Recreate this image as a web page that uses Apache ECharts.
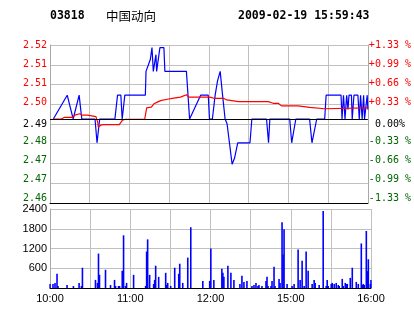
<!DOCTYPE html>
<html><head><meta charset="utf-8">
<script src="https://cdn.jsdelivr.net/npm/echarts@6/dist/echarts.min.js"></script>
<style>html,body{margin:0;padding:0;background:#fff}#c{width:414px;height:314px}</style>
</head><body><div id="c"></div>
<script>
const stockCode = '03818';
const stockName = '中国动向';
const stamp = '2009-02-19 15:59:43';
const priceTicks = ['2.46','2.47','2.47','2.48','2.49','2.50','2.51','2.51','2.52'];
const pctTicks = ['-1.33 %','-0.99 %','-0.66 %','-0.33 %',' 0.00%','+0.33 %','+0.66 %','+0.99 %','+1.33 %'];
const timeTicks = ['10:00','','11:00','','12:00','','15:00','','16:00'];
const volTicks = ['','600','1200','1800','2400'];
const prevClose = 2.4879;

// minutes of trading since 10:00 (12:30 and 14:30 share minute 150)
const priceMinutes = [2.5,13,17.5,22,23.5,24,34,35.5,36.5,37.5,49,51,53.5,54.5,56,56.5,72,72.5,74,75.75,77,77.5,78,79,80,80.5,81.5,83,86,86.75,103,105.4,113.75,119.5,120.4,122.6,124.7,126.5,128.5,130.3,132.2,133.7,135.5,137.5,139.3,141.75,151,152.4,163.5,165,166,181,182.5,185.6,196,197.8,201.4,207.4,208.5,219.75,220.5,221.6,222.75,224,225,225.75,227.6,228.2,229.5,232.5,233.5,234.5,235.7,236.8,237.5,238.9,239.5,240];
const prices = [2.49,2.50,2.49,2.50,2.50,2.49,2.49,2.48,2.48,2.49,2.49,2.50,2.50,2.49,2.49,2.50,2.50,2.51,2.51,2.515,2.52,2.52,2.51,2.51,2.517,2.51,2.51,2.52,2.52,2.51,2.51,2.49,2.50,2.50,2.49,2.49,2.50,2.506,2.51,2.50,2.49,2.488,2.48,2.471,2.4735,2.48,2.48,2.49,2.49,2.48,2.49,2.49,2.48,2.49,2.49,2.48,2.49,2.49,2.50,2.50,2.49,2.50,2.49,2.50,2.494,2.50,2.50,2.49,2.50,2.50,2.49,2.50,2.49,2.50,2.49,2.49,2.50,2.494];

const avgMinutes = [2.25,8.5,11,17.25,18.75,22.5,24.4,28.5,29.75,34.7,36,36.5,38.25,40.5,52.3,54.75,57,71.5,73,76.5,78.5,81,83.5,88.5,93.5,98.5,103,104.75,119.75,121.5,123.75,131,133.5,142.3,164.8,168.5,172.3,174.75,187.3,188.25,196,197.25,207.25,208.5,240];
const avgPrices = [2.4900,2.4900,2.4907,2.4907,2.4916,2.4922,2.4916,2.4916,2.4910,2.4910,2.4887,2.4866,2.4874,2.4876,2.4876,2.4895,2.4899,2.4899,2.4947,2.4950,2.4964,2.4971,2.4977,2.4983,2.4988,2.4992,2.5002,2.4992,2.4992,2.4991,2.4987,2.4987,2.4980,2.4973,2.4973,2.4966,2.4966,2.4955,2.4955,2.4949,2.4949,2.4943,2.4943,2.4947,2.4947];

const volMinutes = [0,2.25,3.75,5.25,6,12.75,17.5,21.75,23.5,24.25,34,35.5,36.25,37,41.5,45.25,48.25,49,51.25,52,54,55,56.5,57.25,62.5,71.5,72.25,73,74.5,77.5,78.25,79,81.25,86.5,87.25,88,90.25,93.25,96.25,97,99.25,103,105.25,114.25,119.4,120.25,122.5,128.5,129.25,130,133,135.25,137.5,142,143.5,145,147.25,151,152.5,154,155.5,156.25,158.5,161.5,162.25,163,165.25,166,167.5,168.25,171.25,172,173.5,174.25,175,177.25,181,182.5,185.5,187,188.5,190,191.5,193,196,197.5,198.25,201.25,204.25,206.5,207.25,208,210.25,211,212.5,214,215.5,216.25,218.5,219.25,220.75,221.5,222.25,224.5,226,229,230.5,232.75,233.5,234.25,235,236.5,237.25,238,239.5,240];
const volumes = [123,120,154,431,60,92,60,154,60,615,246,154,1046,400,554,92,246,60,60,60,523,1600,60,154,400,60,1108,1477,400,123,246,677,338,461,92,154,60,615,431,738,154,923,1846,215,215,1200,246,585,461,338,677,461,246,123,369,185,215,60,92,154,60,92,60,215,338,60,60,215,646,60,277,154,2000,1015,1785,123,60,123,1169,246,831,60,1108,523,123,246,154,92,2338,60,246,60,123,154,123,154,92,60,277,60,154,123,123,308,615,185,123,1354,92,123,92,1733,513,872,123,246];

const zip = (a, b) => a.map((v, i) => [v, b[i]]);
const step = prevClose / 300;
const pMin = 296 * step, pMax = 304 * step;
const idx = v => Math.round((v - pMin) / step);
const GRID = '#c0c0c0';
const RED = '#ff0000', GREEN = '#006600';
const monoFont = '"DejaVu Sans Mono", monospace';
const sansFont = '"Liberation Sans", Arial, sans-serif';
// small upward offsets (px) of the price-side labels, bottom to top (layout only)
const labelLift = [5, 4.2, 2.8, 2.5, 0, 2, 1, 0.7, 0];
const colorOf = i => i > 4 ? RED : (i < 4 ? GREEN : '#000');
const rich = {};
for (let i = 0; i < 9; i++) {
  rich['s' + i] = {color: colorOf(i), fontFamily: monoFont, fontSize: 10, padding: [0, 0, 2 * labelLift[i], 0]};
}
const priceLabel = (arr) => v => { const i = idx(v); return '{s' + i + '|' + arr[i] + '}'; };

const chart = echarts.init(document.getElementById('c'), null, {renderer: 'canvas'});
chart.setOption({
  animation: false,
  backgroundColor: '#fff',
  graphic: [
    {type: 'text', x: 50, y: 16.5, style: {text: stockCode, font: 'bold 11.5px ' + monoFont, fill: '#000', verticalAlign: 'middle', align: 'left'}},
    {type: 'text', x: 106, y: 16, style: {text: stockName, font: '12.5px "Noto Sans CJK SC"', fill: '#000', verticalAlign: 'middle', align: 'left'}},
    {type: 'text', x: 238, y: 16.5, style: {text: stamp, font: 'bold 11.5px ' + monoFont, fill: '#000', verticalAlign: 'middle', align: 'left'}}
  ],
  grid: [
    {left: 50, top: 45, width: 321, height: 158},
    {left: 50, top: 209, width: 321, height: 79}
  ],
  xAxis: [
    {gridIndex: 0, type: 'value', min: 0, max: 240, interval: 30,
     axisLine: {lineStyle: {color: '#000', width: 1}}, axisTick: {show: false}, axisLabel: {show: false},
     splitLine: {show: true, lineStyle: {color: GRID, width: 1}}},
    {gridIndex: 1, type: 'value', min: 0, max: 240, interval: 30,
     axisLine: {lineStyle: {color: '#000', width: 1}}, axisTick: {show: false},
     axisLabel: {margin: 5, color: '#000', fontSize: 11, fontFamily: sansFont,
       formatter: v => timeTicks[Math.round(v / 30)] || ''},
     splitLine: {show: true, lineStyle: {color: GRID, width: 1}}}
  ],
  yAxis: [
    {gridIndex: 0, type: 'value', min: pMin, max: pMax, interval: step,
     axisLine: {show: true, lineStyle: {color: '#a8a8a8'}}, axisTick: {show: false},
     splitLine: {show: true, lineStyle: {color: GRID, width: 1}},
     axisLabel: {margin: 3, formatter: priceLabel(priceTicks), rich: rich}},
    {gridIndex: 0, type: 'value', position: 'right', min: pMin, max: pMax, interval: step,
     axisLine: {show: true, lineStyle: {color: '#a8a8a8'}}, axisTick: {show: false},
     splitLine: {show: false},
     axisLabel: {margin: 1, formatter: priceLabel(pctTicks), rich: rich}},
    {gridIndex: 1, type: 'value', min: 0, max: 2400, interval: 600,
     axisLine: {show: true, lineStyle: {color: '#a8a8a8'}}, axisTick: {show: false},
     splitLine: {show: true, lineStyle: {color: GRID, width: 1}},
     axisLabel: {margin: 3, color: '#000', fontSize: 11, fontFamily: sansFont, padding: [6, 0, 0, 0],
       formatter: v => volTicks[Math.round(v / 600)] || ''}}
  ],
  series: [
    {type: 'line', xAxisIndex: 0, yAxisIndex: 0, data: zip(priceMinutes, prices), showSymbol: false,
     lineStyle: {color: '#0000ff', width: 1.2}, itemStyle: {color: '#0000ff'}, z: 3,
     markLine: {silent: true, symbol: ['none', 'none'], label: {show: false},
       lineStyle: {color: '#000', width: 1, type: 'solid'}, data: [{yAxis: prevClose}]}},
    {type: 'line', xAxisIndex: 0, yAxisIndex: 0, data: zip(avgMinutes, avgPrices), showSymbol: false,
     lineStyle: {color: '#ff0000', width: 1.2}, itemStyle: {color: '#ff0000'}, z: 4},
    {type: 'bar', xAxisIndex: 1, yAxisIndex: 2, data: zip(volMinutes, volumes), barWidth: 1.6,
     itemStyle: {color: '#0000ff'}}
  ]
});
</script></body></html>
